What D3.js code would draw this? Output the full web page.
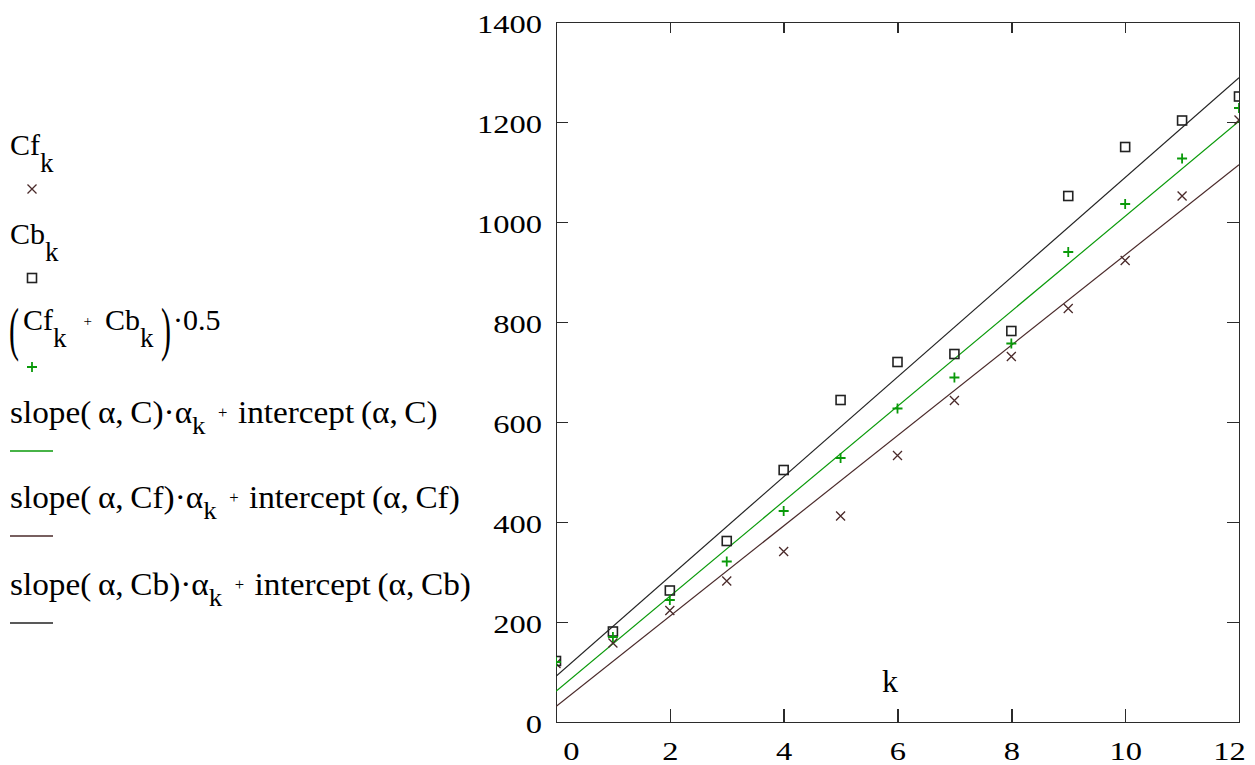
<!DOCTYPE html>
<html>
<head>
<meta charset="utf-8">
<script src="https://cdn.jsdelivr.net/npm/d3@7/dist/d3.min.js"></script>
<style>
    body { margin: 0; background: #fff; }
    svg text { font-family: "Liberation Serif", "DejaVu Serif", serif !important; fill: #000; }
</style>
</head>
<body>
<div id="visualization"></div>
<script>
// values
var alpha = [0, 1, 2, 3, 4, 5, 6, 7, 8, 9, 10, 11, 12];
var Cf = [117, 158, 223, 282, 341, 412, 533, 643, 731, 827, 923, 1052, 1204];
var Cb = [122, 181, 263, 362, 504, 644, 720, 736, 782, 1052, 1150, 1203, 1251];
var C = [120, 170, 244, 321, 422, 528, 627, 689, 757, 940, 1036, 1127, 1228];   // (Cf + Cb) * 0.5

var xTicks = [0, 2, 4, 6, 8, 10, 12];
var yTicks = [0, 200, 400, 600, 800, 1000, 1200, 1400];

var width = 1255, height = 765;
var plot = {left: 556, right: 1239, top: 22, bottom: 722};

var svg = d3.select("#visualization")
    .append("svg")
    .attr("width", width)
    .attr("height", height)
    .style("font-family", "'Liberation Serif', 'DejaVu Serif', serif");

var x = d3.scaleLinear().domain([0, 12]).range([plot.left, plot.right]);
var y = d3.scaleLinear().domain([0, 1400]).range([plot.bottom, plot.top]);

// Mathcad slope() / intercept() : least squares
function fit(xs, ys) {
    var mx = d3.mean(xs), my = d3.mean(ys);
    var sxy = d3.sum(xs, function (v, i) { return (v - mx) * (ys[i] - my); });
    var sxx = d3.sum(xs, function (v) { return (v - mx) * (v - mx); });
    var s = sxy / sxx;
    return {slope: s, intercept: my - s * mx};
}

var frameColor = "#2b2b2b";
var greenColor = "#0a9a0a";
var cfColor = "#4a2a2a";
var cbColor = "#222";
var fmt = d3.format("d");

// ---- axes (box with inward ticks) ----
function styleAxis(g) {
    g.attr("font-family", null).attr("font-size", null);
    g.selectAll("path.domain").attr("stroke", frameColor).attr("stroke-width", 1.6);
    g.selectAll(".tick line").attr("stroke", frameColor).attr("stroke-width", 1.4);
}

var gLeft = svg.append("g")
    .attr("transform", "translate(" + plot.left + ",0)")
    .call(d3.axisLeft(y).tickValues(yTicks).tickFormat(fmt).tickSize(-12).tickSizeOuter(0));
gLeft.selectAll("text")
    .attr("x", 0).attr("dy", null)
    .attr("font-size", 25)
    .attr("dominant-baseline", "central")
    .attr("transform", "translate(-14,2) scale(1.3,1)");
styleAxis(gLeft);

var gBottom = svg.append("g")
    .attr("transform", "translate(0," + plot.bottom + ")")
    .call(d3.axisBottom(x).tickValues(xTicks).tickFormat(fmt).tickSize(-13).tickSizeOuter(0));
gBottom.selectAll("text")
    .attr("y", 0).attr("dy", null)
    .attr("font-size", 25)
    .attr("transform", function (d) {
        var shift = d === 0 ? 15 : (d === 12 ? -10 : 0);
        return "translate(" + shift + ",38) scale(1.3,1)";
    });
styleAxis(gBottom);

var gTop = svg.append("g")
    .attr("transform", "translate(0," + plot.top + ")")
    .call(d3.axisTop(x).tickValues(xTicks).tickSize(-11).tickSizeOuter(0).tickFormat(""));
styleAxis(gTop);

var gRight = svg.append("g")
    .attr("transform", "translate(" + plot.right + ",0)")
    .call(d3.axisRight(y).tickValues(yTicks).tickSize(-12).tickSizeOuter(0).tickFormat(""));
styleAxis(gRight);

svg.selectAll(".domain, .tick line").attr("shape-rendering", "crispEdges");

// ---- plot area ----
svg.append("clipPath").attr("id", "clip")
    .append("rect")
    .attr("x", plot.left).attr("y", plot.top)
    .attr("width", plot.right - plot.left).attr("height", plot.bottom - plot.top);

var area = svg.append("g").attr("clip-path", "url(#clip)");

// regression lines
var fits = [
    {f: fit(alpha, C), color: greenColor},
    {f: fit(alpha, Cf), color: cfColor},
    {f: fit(alpha, Cb), color: cbColor}
];
var domainX = d3.extent(alpha);
var line = d3.line().x(function (d) { return x(d[0]); }).y(function (d) { return y(d[1]); });

area.selectAll("path.fit")
    .data(fits)
    .enter().append("path")
    .attr("class", "fit")
    .attr("fill", "none")
    .attr("stroke", function (d) { return d.color; })
    .attr("stroke-width", 1.2)
    .attr("d", function (d) {
        return line(domainX.map(function (k) { return [k, d.f.slope * k + d.f.intercept]; }));
    });

// marker shapes
var crossPath = "M-4.5,-4.5L4.5,4.5M-4.5,4.5L4.5,-4.5";
var plusPath = "M-5,0H5M0,-5V5";

function drawCross(g) {
    g.append("path").attr("d", crossPath).attr("stroke", cfColor).attr("stroke-width", 1.3).attr("fill", "none");
}
function drawSquare(g) {
    g.append("rect").attr("x", -4.5).attr("y", -4.5).attr("width", 9).attr("height", 9)
        .attr("stroke", cbColor).attr("stroke-width", 1.6).attr("fill", "none");
}
function drawPlus(g) {
    g.append("path").attr("d", plusPath).attr("stroke", greenColor).attr("stroke-width", 1.8).attr("fill", "none");
}

area.selectAll("g.cf").data(alpha).enter().append("g")
    .attr("class", "cf")
    .attr("transform", function (k, i) { return "translate(" + x(k) + "," + y(Cf[i]) + ")"; })
    .each(function () { drawCross(d3.select(this)); });

area.selectAll("g.cb").data(alpha).enter().append("g")
    .attr("class", "cb")
    .attr("transform", function (k, i) { return "translate(" + x(k) + "," + y(Cb[i]) + ")"; })
    .each(function () { drawSquare(d3.select(this)); });

area.selectAll("g.c").data(alpha).enter().append("g")
    .attr("class", "c")
    .attr("transform", function (k, i) { return "translate(" + x(k) + "," + y(C[i]) + ")"; })
    .each(function () { drawPlus(d3.select(this)); });

// axis variable label
svg.append("text")
    .attr("x", 882).attr("y", 692)
    .attr("font-size", 32)
    .text("k");

// ---- legend (Mathcad trace expressions) ----
var legend = svg.append("g");

// parts: {t, sub, small, dx}; sub = [drop, size]
function mathText(px, py, size, sx, sub, parts) {
    var t = legend.append("text")
        .attr("transform", "translate(" + px + "," + py + ") scale(" + sx + ",1)")
        .attr("font-size", size);
    var shift = 0;
    parts.forEach(function (p) {
        var s = t.append("tspan").text(p.t);
        var target = 0;
        if (p.sub) { target = sub[0]; s.attr("font-size", sub[1]); }
        if (p.small) { target = -size * 0.15; s.attr("font-size", size * 0.5); }
        s.attr("dy", target - shift);
        if (p.dx) s.attr("dx", p.dx);
        shift = target;
    });
    return t;
}

mathText(10, 155, 30, 1, [17, 27], [{t: "Cf"}, {t: "k", sub: 1}]);
legend.append("g").attr("transform", "translate(32,189)").call(drawCross);

mathText(10, 244, 30, 1, [17, 27], [{t: "Cb"}, {t: "k", sub: 1}]);
legend.append("g").attr("transform", "translate(32,278)").call(drawSquare);

// big parentheses
legend.append("text").attr("font-size", 60)
    .attr("transform", "translate(9,349) scale(0.5,1)").text("(");
mathText(23, 330, 30, 1, [17, 27], [{t: "Cf"}, {t: "k", sub: 1}, {t: "+", small: 1, dx: 17}, {t: "Cb", dx: 13}, {t: "k", sub: 1}]);
legend.append("text").attr("font-size", 60)
    .attr("transform", "translate(161,349) scale(0.5,1)").text(")");
mathText(173, 330, 30, 1, [17, 27], [{t: "\u00b70.5"}]);
legend.append("g").attr("transform", "translate(32,367)").call(drawPlus);

var fitRows = [
    {y: 423, name: "C", color: greenColor},
    {y: 508, name: "Cf", color: cfColor},
    {y: 595, name: "Cb", color: cbColor}
];
fitRows.forEach(function (r) {
    mathText(10, r.y, 32, 1.04, [11, 26], [
        {t: "slope(\u2009\u03b1,\u2009" + r.name + ")\u00b7\u03b1"},
        {t: "k", sub: 1},
        {t: "+", small: 1, dx: 12},
        {t: "intercept\u2009(\u03b1,\u2009" + r.name + ")", dx: 10}
    ]);
    legend.append("line")
        .attr("x1", 10).attr("x2", 53)
        .attr("y1", r.y + 28).attr("y2", r.y + 28)
        .attr("stroke", r.color).attr("stroke-width", 1.6);
});
</script>
</body>
</html>
